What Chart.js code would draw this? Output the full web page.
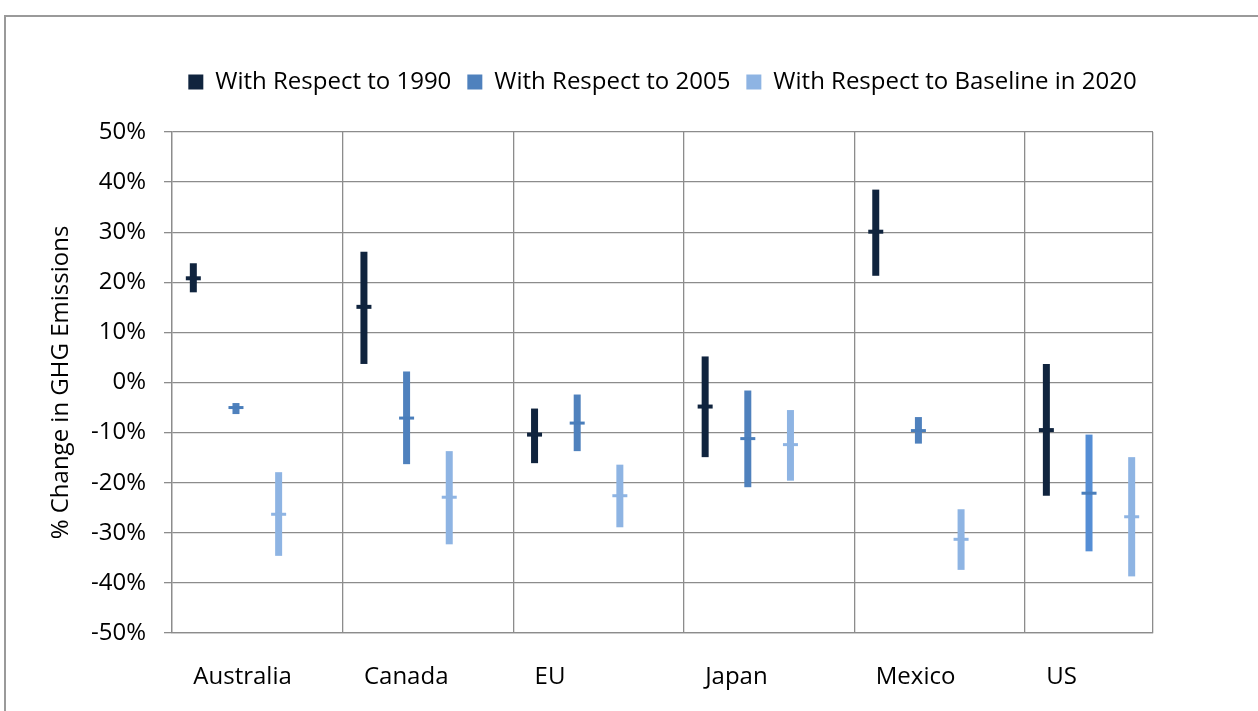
<!DOCTYPE html>
<html>
<head>
<meta charset="utf-8">
<script src="https://cdn.jsdelivr.net/npm/chart.js@4.4.1/dist/chart.umd.min.js"></script>
<style>
    html, body { margin: 0; padding: 0; background: #fff; overflow: hidden; }
    #frame { position: absolute; left: 4px; top: 15px; width: 1300px; height: 760px;
             border-top: 2px solid #9a9a9a; border-left: 2px solid #9a9a9a; }
    #wrap { position: absolute; left: 0; top: 0; width: 1258px; height: 711px; }
</style>
</head>
<body>
<div id="frame"></div>
<div id="wrap"><canvas id="ghgChart" width="1258" height="711"></canvas></div>
<script>
const categories = ['Australia', 'Canada', 'EU', 'Japan', 'Mexico', 'US'];
const yTicks = [-50, -40, -30, -20, -10, 0, 10, 20, 30, 40, 50];

// % change ranges
const rel1990Low  = [18.0, 3.7, -16.1, -14.9, 21.3, -22.6];
const rel1990High = [23.8, 26.1, -5.2, 5.2, 38.5, 3.7];
const rel1990Mid  = [20.8, 15.1, -10.4, -4.8, 30.1, -9.5];

const rel2005Low  = [-6.3, -16.3, -13.7, -20.9, -12.2, -33.7];
const rel2005High = [-4.1, 2.2, -2.4, -1.6, -6.9, -10.4];
const rel2005Mid  = [-5.0, -7.1, -8.1, -11.2, -9.6, -22.1];

const baseLow  = [-34.6, -32.3, -28.9, -19.6, -37.4, -38.7];
const baseHigh = [-17.9, -13.7, -16.4, -5.5, -25.3, -14.9];
const baseMid  = [-26.3, -22.9, -22.6, -12.4, -31.3, -26.8];

const seriesNames = ['With Respect to 1990', 'With Respect to 2005', 'With Respect to Baseline in 2020'];

const X_MAX = 5.75;
const gridPos = [0, 1, 2, 3, 4, 5, X_MAX];
const labelPos = categories.map((c, i) => i + 0.125);
const slot = k => i => i + 0.125 + 0.25 * k;

function rangeData(low, high, k) {
    return categories.map((c, i) => ({ x: slot(k)(i), y: [low[i], high[i]] }));
}
function midData(mid, k) {
    return categories.map((c, i) => ({ x: slot(k)(i), y: mid[i] }));
}

Chart.defaults.font.family = "'Open Sans', sans-serif";
Chart.defaults.font.size = 24;
Chart.defaults.color = '#000';

// keep the legend row where it is and push the plot down
const legendSpacer = {
    id: 'legendSpacer',
    beforeInit(chart) {
        const fit = chart.legend.fit;
        chart.legend.fit = function () {
            fit.bind(chart.legend)();
            this.height = 78;
        };
    }
};

const barBase = { type: 'bar', grouped: false, maxBarThickness: 7, borderWidth: 0, order: 1 };
const tickBase = { type: 'scatter', pointStyle: 'line', pointRadius: 7.5, pointHoverRadius: 7.5, order: 0, isMid: true };

new Chart(document.getElementById('ghgChart'), {
    type: 'bar',
    data: {
        datasets: [
            { ...barBase, label: seriesNames[0], data: rangeData(rel1990Low, rel1990High, 0), backgroundColor: '#10243E' },
            { ...barBase, label: seriesNames[1], data: rangeData(rel2005Low, rel2005High, 1),
              backgroundColor: ctx => ctx.dataIndex === 5 ? '#558ED5' : '#4F81BD' },
            { ...barBase, label: seriesNames[2], data: rangeData(baseLow, baseHigh, 2), backgroundColor: '#8EB4E3' },
            { ...tickBase, label: 'mid1990', data: midData(rel1990Mid, 0), borderColor: '#10243E', pointBorderWidth: 4 },
            { ...tickBase, label: 'mid2005', data: midData(rel2005Mid, 1), borderColor: '#4A7EBB', pointBorderWidth: 3 },
            { ...tickBase, label: 'midBase', data: midData(baseMid, 2), borderColor: '#8EB4E3', pointBorderWidth: 3 }
        ]
    },
    options: {
        responsive: false,
        animation: false,
        layout: { padding: { left: 47, right: 105, top: 54, bottom: 0 } },
        plugins: {
            tooltip: { enabled: false },
            legend: {
                position: 'top',
                fullSize: false,
                labels: {
                    boxWidth: 15,
                    boxHeight: 15,
                    padding: 16,
                    font: { size: 24 },
                    filter: (item, data) => !data.datasets[item.datasetIndex].isMid
                }
            }
        },
        scales: {
            x: {
                type: 'linear',
                min: 0,
                max: X_MAX,
                offset: false,
                afterBuildTicks: s => { s.ticks = gridPos.concat(labelPos).sort((a, b) => a - b).map(v => ({ value: v })); },
                afterFit: s => { s.height = 78; },
                grid: {
                    offset: false,
                    drawTicks: false,
                    lineWidth: 1.3,
                    color: ctx => (ctx.tick && gridPos.includes(ctx.tick.value)) ? '#8c8c8c' : 'rgba(0,0,0,0)'
                },
                border: { display: true, color: '#8c8c8c', width: 1.3 },
                ticks: {
                    autoSkip: false,
                    maxRotation: 0,
                    align: 'start',
                    padding: 30,
                    font: { size: 24 },
                    callback: v => { const i = labelPos.indexOf(v); return i >= 0 ? categories[i] : ''; }
                }
            },
            y: {
                min: yTicks[0],
                max: yTicks[yTicks.length - 1],
                afterBuildTicks: s => { s.ticks = yTicks.map(v => ({ value: v })); },
                afterFit: s => { s.width = 125; },
                grid: { color: '#8c8c8c', lineWidth: 1.3, tickLength: 8 },
                border: { display: true, color: '#8c8c8c', width: 1.3 },
                ticks: {
                    padding: 18,
                    font: { size: 24 },
                    callback: v => v + '%'
                },
                title: {
                    display: true,
                    text: '% Change in GHG Emissions',
                    padding: 0,
                    font: { size: 24 }
                }
            }
        }
    },
    plugins: [legendSpacer]
});
</script>
</body>
</html>
